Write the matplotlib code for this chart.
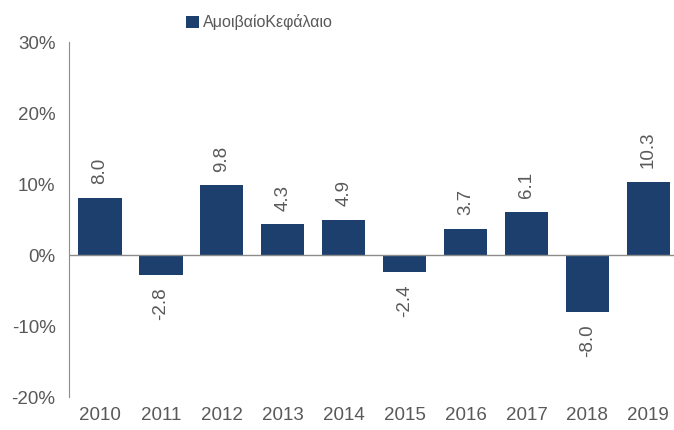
import matplotlib.pyplot as plt
from matplotlib.ticker import FuncFormatter

years = ["2010", "2011", "2012", "2013", "2014", "2015", "2016", "2017", "2018", "2019"]
returns = [8.0, -2.8, 9.8, 4.3, 4.9, -2.4, 3.7, 6.1, -8.0, 10.3]
series_name = "ΑμοιβαίοΚεφάλαιο"

plt.rcParams["font.family"] = ["Liberation Sans", "DejaVu Sans"]
text_color = "#595959"
bar_color = "#1C3F6E"
axis_color = "#8C8C8C"

fig = plt.figure(figsize=(6.74, 4.3), dpi=100)
ax = fig.add_axes([0.1031, 0.0767, 0.904, 0.8256])

x = range(len(years))
ax.bar(x, returns, width=0.71, color=bar_color, label=series_name, zorder=2)

# value labels, rotated
for xi, v in zip(x, returns):
    if v >= 0:
        ax.annotate(f"{v:.1f}", (xi, v), xytext=(0, 10), textcoords="offset points",
                    rotation=90, ha="center", va="bottom", fontsize=13.5, color=text_color)
    else:
        ax.annotate(f"{v:.1f}", (xi, v), xytext=(0, -9), textcoords="offset points",
                    rotation=90, ha="center", va="top", fontsize=13.5, color=text_color)

ax.set_xlim(-0.5, 9.5)
ax.set_ylim(-20, 30)
ax.set_yticks([-20, -10, 0, 10, 20, 30])
ax.yaxis.set_major_formatter(FuncFormatter(lambda v, p: f"{v:.0f}%"))
ax.set_xticks(list(x))
ax.set_xticklabels(years)

ax.axhline(0, color=axis_color, linewidth=1, zorder=3)
for side in ["top", "right", "bottom"]:
    ax.spines[side].set_visible(False)
ax.spines["left"].set_color(axis_color)
ax.tick_params(axis="both", length=0, labelsize=13.5, labelcolor=text_color)
ax.tick_params(axis="y", pad=10)
ax.tick_params(axis="x", pad=7)

fig.legend(loc="upper center", bbox_to_anchor=(0.385, 1.0), frameon=False,
           fontsize=11.5, labelcolor=text_color, handlelength=0.8, handleheight=0.8,
           handletextpad=0.3)

fig.savefig("out.png", dpi=100)
